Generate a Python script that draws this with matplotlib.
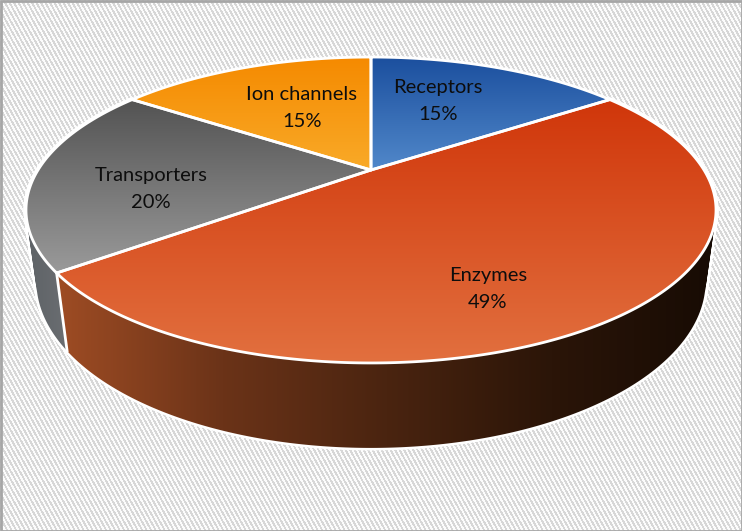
import matplotlib.pyplot as plt
from matplotlib.collections import PolyCollection
from matplotlib.colors import LinearSegmentedColormap
from matplotlib.patches import PathPatch, Polygon
from matplotlib.path import Path
import numpy as np

plt.rcParams['font.family'] = ['Lato', 'DejaVu Sans']

categories = ["Receptors", "Enzymes", "Transporters", "Ion channels"]
# the labels show them rounded
values = [15.4, 49.2, 20.0, 15.4]
top_colors = ["#1b4f9e", "#d0360a", "#535353", "#f58a00"]
bottom_colors = ["#5188ca", "#e2703f", "#9a9a9a", "#f9aa28"]
wall_colors = {1: ["#9e4c24", "#6b3318", "#4a2410", "#2b1508", "#170b04"],
               2: ["#5e6266", "#808386"]}
label_x = [438, 488, 151, 302]
label_y = [101, 289, 189, 108]

# perspective of the pie, pixels of the picture
cx, cy = 371, 170
ax_a, ax_b, ax_c = 333, 142.5, 70.8
k, m = 0.2615, -0.029


def proyectar(ang, z):
    # ang clockwise from the top of the pie, z=0 top face, z=1 bottom face
    x = np.sin(ang)
    y = -np.cos(ang)
    w = 1 - k * y - m * z
    return cx + ax_a * x / w, cy + (ax_b * y + ax_c * z) / w


fig = plt.figure(figsize=(7.42, 5.31), dpi=100)
ax = fig.add_axes([0, 0, 1, 1])

# hatched background
yy, xx = np.mgrid[0:531, 0:742]
fondo = ((xx - 0.55 * yy) % 4.5) < 2.2
fondo = np.where(fondo, 0.985, 0.84)
ax.imshow(fondo, cmap="gray", vmin=0, vmax=1, extent=[0, 742, 531, 0], aspect="auto", interpolation="nearest", zorder=0)
ax.add_patch(plt.Rectangle((0.5, 0.5), 741, 530, fill=False, edgecolor="#a6a6a6", linewidth=2, zorder=1))

total = sum(values)
limites = np.cumsum([0] + values) / total * 2 * np.pi

# side wall: quads joined into one clip path, colour runs left to right
for i in [2, 1]:
    angs = np.linspace(limites[i], limites[i + 1], int(values[i] * 8))
    x0, y0 = proyectar(angs, 0)
    x1, y1 = proyectar(angs, 1)
    quads = []
    for j in range(len(angs) - 1):
        quad = [(x0[j], y0[j]), (x0[j + 1], y0[j + 1]), (x1[j + 1], y1[j + 1]), (x1[j], y1[j])]
        # same turning direction on all of them, so the union fills
        area = sum(quad[n][0] * quad[(n + 1) % 4][1] - quad[(n + 1) % 4][0] * quad[n][1] for n in range(4))
        quads.append(quad if area > 0 else quad[::-1])
    ax.add_collection(PolyCollection(quads, facecolors="white", edgecolors="white", linewidths=3.5, zorder=2))
    cmap = LinearSegmentedColormap.from_list("w%d" % i, wall_colors[i])
    camino = Path.make_compound_path(*[Path(q + [q[0]], closed=True) for q in quads])
    borde = PathPatch(camino, facecolor="none", edgecolor="none", transform=ax.transData, zorder=3)
    ax.add_patch(borde)
    izq = min(x0.min(), x1.min())
    der = max(x0.max(), x1.max())
    im = ax.imshow(np.linspace(0, 1, 256).reshape(1, -1), extent=[izq, der, 531, 0], cmap=cmap, aspect="auto", zorder=3)
    im.set_clip_path(borde)

# line between the two visible walls
xa, ya = proyectar(limites[2], 0)
xb, yb = proyectar(limites[2], 1)
ax.plot([xa, xb], [ya, yb], color="white", linewidth=2, zorder=4)

# top face
for i in range(len(values)):
    angs = np.linspace(limites[i], limites[i + 1], 300)
    x0, y0 = proyectar(angs, 0)
    puntos = np.column_stack([np.r_[cx, x0], np.r_[cy, y0]])
    borde = Polygon(puntos, closed=True, facecolor="none", edgecolor="none", transform=ax.transData, zorder=5)
    ax.add_patch(borde)
    cmap = LinearSegmentedColormap.from_list("s%d" % i, [top_colors[i], bottom_colors[i]])
    arriba = puntos[:, 1].min()
    abajo = puntos[:, 1].max()
    im = ax.imshow(np.linspace(0, 1, 256).reshape(-1, 1), extent=[0, 742, abajo, arriba], cmap=cmap, aspect="auto", zorder=5)
    im.set_clip_path(borde)
    ax.add_patch(Polygon(puntos, closed=True, facecolor="none", edgecolor="white", linewidth=2, joinstyle="round", zorder=6))

for i in range(len(categories)):
    ax.text(label_x[i], label_y[i], "%s\n%.0f%%" % (categories[i], values[i]), ha="center", va="center",
            fontsize=14.5, color="#0d0d0d", linespacing=1.7, zorder=7)

ax.set_xlim(0, 742)
ax.set_ylim(531, 0)
ax.axis("off")
fig.savefig("out.png", dpi=100)
